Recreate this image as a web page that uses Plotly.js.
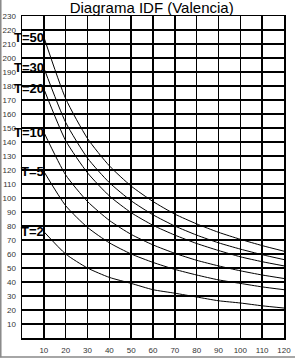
<!DOCTYPE html>
<html>
<head>
<meta charset="utf-8">
<script src="https://cdn.plot.ly/plotly-3.0.1.min.js"></script>
<style>
html,body{margin:0;padding:0;background:#fff;}
#chart{width:295px;height:359px;}
</style>
</head>
<body>
<div id="chart"></div>
<script>
// Duration (minutes)
const durations = [10, 20, 30, 40, 50, 60, 70, 80, 90, 100, 110, 120];
// Intensity values per return period
const t50 = [215, 171, 142.5, 123, 108.5, 97.5, 88.5, 81.5, 75.5, 70.5, 66, 62];
const t30 = [193, 154, 128.5, 111, 98, 88, 80, 73.5, 68, 63.5, 59.5, 56];
const t20 = [178, 141, 118, 101.5, 89.5, 80.5, 73.5, 67.5, 62.5, 58, 54.5, 51.5];
const t10 = [147, 116.5, 97.5, 84, 74, 66.5, 60.5, 55.5, 51.5, 48, 45, 42.5];
const t5  = [119, 94.5, 79, 68, 60, 54, 49, 45, 41.5, 39, 36.5, 34.5];
const t2  = [76, 60, 50, 43.3, 39, 34.5, 32, 29.3, 26.6, 25, 23, 21.4];
const seriesNames = ["T=50", "T=30", "T=20", "T=10", "T=5", "T=2"];
const seriesValues = [t50, t30, t20, t10, t5, t2];
const yTicks = [10,20,30,40,50,60,70,80,90,100,110,120,130,140,150,160,170,180,190,200,210,220,230];
const xTicks = [10,20,30,40,50,60,70,80,90,100,110,120];

const traces = seriesValues.map((vals, i) => ({
  type: 'scatter',
  mode: 'lines',
  x: durations,
  y: vals,
  name: seriesNames[i],
  line: {color: '#000', width: 1, shape: 'spline', smoothing: 0.6},
  hoverinfo: 'skip'
}));

const annotations = seriesValues.map((vals, i) => ({
  x: durations[0],
  y: vals[0],
  xref: 'x', yref: 'y',
  text: seriesNames[i],
  showarrow: false,
  xanchor: 'right',
  yanchor: 'middle',
  xshift: 2,
  font: {family: 'Liberation Sans, Arial, sans-serif', size: 13, color: '#000', weight: 'bold'}
}));

const layout = {
  width: 295,
  height: 359,
  margin: {l: 22, r: 10.5, t: 16.3, b: 20.7, pad: 0},
  paper_bgcolor: '#fff',
  plot_bgcolor: '#fff',
  showlegend: false,
  title: {
    text: 'Diagrama IDF (Valencia)',
    font: {family: 'Liberation Sans, Arial, sans-serif', size: 15, color: '#000'},
    x: 0.495, xref: 'paper',
    y: 0.978, yref: 'container', yanchor: 'middle',
    pad: {t: 0, b: 0}
  },
  xaxis: {
    range: [0, 120],
    tickvals: xTicks,
    ticktext: xTicks.map(String),
    showgrid: true, gridcolor: '#000', gridwidth: 1.5,
    showline: true, linecolor: '#000', linewidth: 1.5, mirror: true,
    zeroline: false, ticks: '',
    ticklabelstandoff: 4,
    tickfont: {family: 'Liberation Sans, Arial, sans-serif', size: 8, color: '#333'},
    fixedrange: true
  },
  yaxis: {
    range: [0, 230],
    tickvals: yTicks,
    ticktext: yTicks.map(String),
    showgrid: true, gridcolor: '#000', gridwidth: 1.5,
    showline: true, linecolor: '#000', linewidth: 1.5, mirror: true,
    zeroline: false, ticks: '',
    ticklabelstandoff: 3,
    tickfont: {family: 'Liberation Sans, Arial, sans-serif', size: 8, color: '#333'},
    fixedrange: true
  },
  annotations: annotations,
  shapes: [
    {type: 'line', xref: 'paper', yref: 'paper', x0: -0.081, x1: -0.081, y0: -0.06, y1: 1.06, line: {color: '#888', width: 1.5}},
    {type: 'line', xref: 'paper', yref: 'paper', x0: -0.085, x1: 1.05, y0: -0.0592, y1: -0.0592, line: {color: '#888', width: 1.5}}
  ]
};

Plotly.newPlot('chart', traces, layout, {displayModeBar: false, staticPlot: true});
</script>
</body>
</html>
